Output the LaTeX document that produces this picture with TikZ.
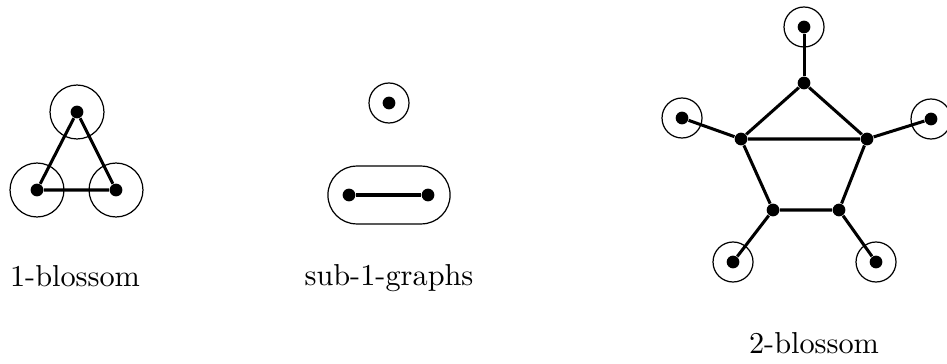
\documentclass[tikz,border=0pt]{standalone}
\begin{document}
\begin{tikzpicture}[x=0.33pt,y=-0.33pt,
  vtx/.style={circle,fill=black,inner sep=0pt,minimum size=4.2pt},
  ring/.style={circle,draw=black,line width=0.4pt,inner sep=0pt,minimum size=13.2pt},
  bigring/.style={circle,draw=black,line width=0.4pt,inner sep=0pt,minimum size=17.8pt},
  edge/.style={line width=1pt},
  lbl/.style={anchor=base,inner sep=0pt,font=\normalsize}]
\useasboundingbox (0,0) rectangle (947,364);
% 1-blossom
\node[bigring] (ra) at (77,112) {};
\node[bigring] (rb) at (37,190) {};
\node[bigring] (rc) at (116,190) {};
\node[vtx] (a) at (77,112) {};
\node[vtx] (b) at (37,190) {};
\node[vtx] (c) at (116,190) {};
\draw[edge] (a) -- (b) -- (c) -- (a);
\node[lbl] (l1) at (75,286) {1-blossom};
% sub-1-graphs
\node[ring] (rs) at (389,103) {};
\node[vtx] (s) at (389,103) {};
\node[draw=black,line width=0.4pt,rounded corners=9.5pt,minimum width=40.3pt,minimum height=19.1pt,inner sep=0pt] (pill) at (389,195) {};
\node[vtx] (p) at (349,195) {};
\node[vtx] (q) at (428,195) {};
\draw[edge] (p) -- (q);
\node[lbl] (l2) at (389,285) {sub-1-graphs};
% 2-blossom
\node[vtx] (t) at (804,83) {};
\node[vtx] (ul) at (741,139) {};
\node[vtx] (ur) at (867,139) {};
\node[vtx] (bl) at (773,210) {};
\node[vtx] (br) at (839,210) {};
\node[ring] (rt) at (804,27) {};
\node[ring] (rl) at (682,118) {};
\node[ring] (rr) at (931,119) {};
\node[ring] (rbl) at (733,262) {};
\node[ring] (rbr) at (876,262) {};
\node[vtx] (pt) at (804,27) {};
\node[vtx] (pl) at (682,118) {};
\node[vtx] (pr) at (931,119) {};
\node[vtx] (pbl) at (733,262) {};
\node[vtx] (pbr) at (876,262) {};
\draw[edge] (t) -- (ul) -- (ur) -- (t);
\draw[edge] (ul) -- (bl) -- (br) -- (ur);
\draw[edge] (t) -- (pt);
\draw[edge] (ul) -- (pl);
\draw[edge] (ur) -- (pr);
\draw[edge] (bl) -- (pbl);
\draw[edge] (br) -- (pbr);
\node[lbl] (l3) at (814,353) {2-blossom};
\end{tikzpicture}
\end{document}
